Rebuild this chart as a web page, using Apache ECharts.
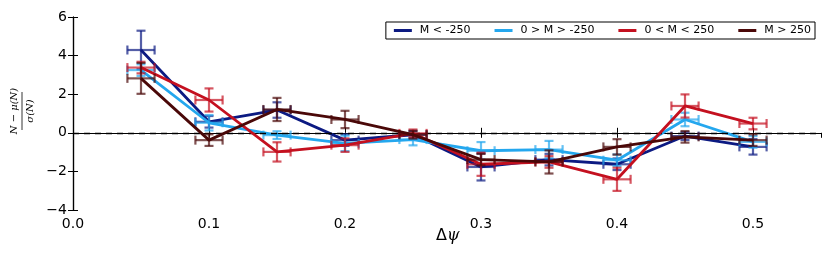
<!DOCTYPE html>
<html>
<head>
<meta charset="utf-8">
<script src="https://cdn.jsdelivr.net/npm/echarts@6/dist/echarts.min.js"></script>
<style>html,body{margin:0;padding:0;background:#fff}#c{width:831px;height:264px}</style>
</head>
<body>
<div id="c"></div>
<script>
const xs = [0.05, 0.10, 0.15, 0.20, 0.25, 0.30, 0.35, 0.40, 0.45, 0.50];
const xErr = 0.01;
const seriesNames = ['M < -250', '0 > M > -250', '0 < M < 250', 'M > 250'];
const mNeg250 = [4.29, 0.57, 1.18, -0.38, -0.10, -1.77, -1.39, -1.63, -0.17, -0.73];
const mNeg250Err = [1.0, 0.3, 0.4, 0.3, 0.2, 0.7, 0.3, 0.3, 0.2, 0.4];
const mNeg0 = [3.25, 0.52, -0.12, -0.55, -0.35, -0.93, -0.87, -1.42, 0.69, -0.47];
const mNeg0Err = [0.3, 0.4, 0.2, 0.4, 0.3, 0.45, 0.45, 0.3, 0.35, 0.3];
const mPos0 = [3.38, 1.70, -0.99, -0.64, -0.03, -1.63, -1.51, -2.41, 1.39, 0.48];
const mPos0Err = [0.3, 0.6, 0.5, 0.35, 0.2, 0.6, 0.3, 0.6, 0.6, 0.3];
const mPos250 = [2.82, -0.38, 1.21, 0.69, -0.10, -1.39, -1.51, -0.73, -0.21, -0.38];
const mPos250Err = [0.8, 0.3, 0.6, 0.45, 0.2, 0.3, 0.6, 0.4, 0.3, 0.3];
const xTicks = [0.0, 0.1, 0.2, 0.3, 0.4, 0.5];
const yTicks = [-4, -2, 0, 2, 4, 6];

const colors = ['#0c1a82', '#24a7ee', '#c4101f', '#4a0808'];
const values = [mNeg250, mNeg0, mPos0, mPos250];
const errs = [mNeg250Err, mNeg0Err, mPos0Err, mPos250Err];

const chart = echarts.init(document.getElementById('c'), null, {renderer: 'canvas'});

function errRender(color) {
  return function (params, api) {
    const x = api.value(0), y = api.value(1), e = api.value(2);
    const top = api.coord([x, y + e]);
    const bot = api.coord([x, y - e]);
    const lft = api.coord([x - xErr, y]);
    const rgt = api.coord([x + xErr, y]);
    const cap = 4.5;
    const st = {stroke: color, lineWidth: 2.2, opacity: 0.7};
    const mk = (x1, y1, x2, y2) => ({type: 'line', shape: {x1, y1, x2, y2}, style: st});
    return {
      type: 'group',
      children: [
        mk(top[0], top[1], bot[0], bot[1]),
        mk(top[0] - cap, top[1], top[0] + cap, top[1]),
        mk(bot[0] - cap, bot[1], bot[0] + cap, bot[1]),
        mk(lft[0], lft[1], rgt[0], rgt[1]),
        mk(lft[0], lft[1] - cap, lft[0], lft[1] + cap),
        mk(rgt[0], rgt[1] - cap, rgt[0], rgt[1] + cap)
      ]
    };
  };
}

const series = [];
values.forEach((v, i) => {
  series.push({
    name: seriesNames[i],
    type: 'line',
    data: xs.map((x, k) => [x, v[k]]),
    showSymbol: false,
    symbol: 'none',
    lineStyle: {color: colors[i], width: 2.8},
    itemStyle: {color: colors[i]},
    z: 3 + i,
    animation: false,
    markLine: i === 0 ? {
      silent: true, symbol: 'none', label: {show: false},
      lineStyle: {color: '#000', type: [6, 5], width: 1.3},
      data: [{yAxis: 0}], animation: false
    } : undefined
  });
  series.push({
    type: 'custom',
    renderItem: errRender(colors[i]),
    data: xs.map((x, k) => [x, v[k], errs[i][k]]),
    z: 3 + i,
    animation: false,
    silent: true
  });
});

const axisCommon = {
  axisLine: {show: true, lineStyle: {color: '#000', width: 1.2}},
  axisTick: {show: true, inside: true, length: 5, lineStyle: {color: '#000', width: 1}},
  splitLine: {show: false}
};

chart.setOption({
  animation: false,
  grid: {left: 73, right: 10, top: 17, bottom: 54, containLabel: false},
  legend: {
    data: seriesNames,
    right: 16, top: 22,
    orient: 'horizontal',
    itemWidth: 18, itemHeight: 3,
    itemGap: 24,
    icon: 'rect',
    borderColor: '#000', borderWidth: 1,
    padding: [3, 4, 3, 8],
    backgroundColor: '#fff',
    textStyle: {fontFamily: 'DejaVu Sans', fontSize: 11, color: '#000', padding: [0, 0, 0, 3]}
  },
  xAxis: [
    Object.assign({
      type: 'value', min: 0, max: 0.55, interval: 0.1,
      axisLabel: {
        color: '#000', fontFamily: 'DejaVu Sans', fontSize: 14, margin: 7,
        showMaxLabel: false,
        formatter: v => (xTicks.some(t => Math.abs(t - v) < 1e-9) ? v.toFixed(1) : '')
      }
    }, axisCommon),
    Object.assign({
      type: 'value', min: 0, max: 0.55, interval: 0.1, position: 'top',
      axisLabel: {show: false}
    }, axisCommon)
  ],
  yAxis: [
    Object.assign({
      type: 'value', min: -4, max: 6, interval: 2,
      axisLabel: {
        color: '#000', fontFamily: 'DejaVu Sans', fontSize: 14, margin: 6,
        formatter: v => (yTicks.includes(v) ? (v < 0 ? '\u2212' + Math.abs(v) : String(v)) : '')
      }
    }, axisCommon),
    Object.assign({
      type: 'value', min: -4, max: 6, interval: 2, position: 'right',
      axisLabel: {show: false}
    }, axisCommon)
  ],
  series: series,
  graphic: [
    {
      type: 'group', x: 22, y: 111, rotation: Math.PI / 2,
      children: [
        {type: 'text', x: 0, y: -8, style: {text: 'N \u2212 \u03bc(N)', fontFamily: 'DejaVu Serif', fontStyle: 'italic', fontSize: 10, fill: '#000', align: 'center', verticalAlign: 'middle'}},
        {type: 'line', shape: {x1: -19, y1: 0, x2: 19, y2: 0}, style: {stroke: '#000', lineWidth: 0.8}},
        {type: 'text', x: 0, y: 8, style: {text: '\u03c3(N)', fontFamily: 'DejaVu Serif', fontStyle: 'italic', fontSize: 10, fill: '#000', align: 'center', verticalAlign: 'middle'}}
      ]
    },
    {
      type: 'text', left: 436, top: 228,
      style: {
        text: '\u0394{p|\u03c8}', fontFamily: 'DejaVu Sans', fontSize: 16, fill: '#000',
        rich: {p: {fontFamily: 'DejaVu Serif', fontStyle: 'italic', fontSize: 16, fill: '#000'}}
      }
    }
  ]
});
</script>
</body>
</html>
